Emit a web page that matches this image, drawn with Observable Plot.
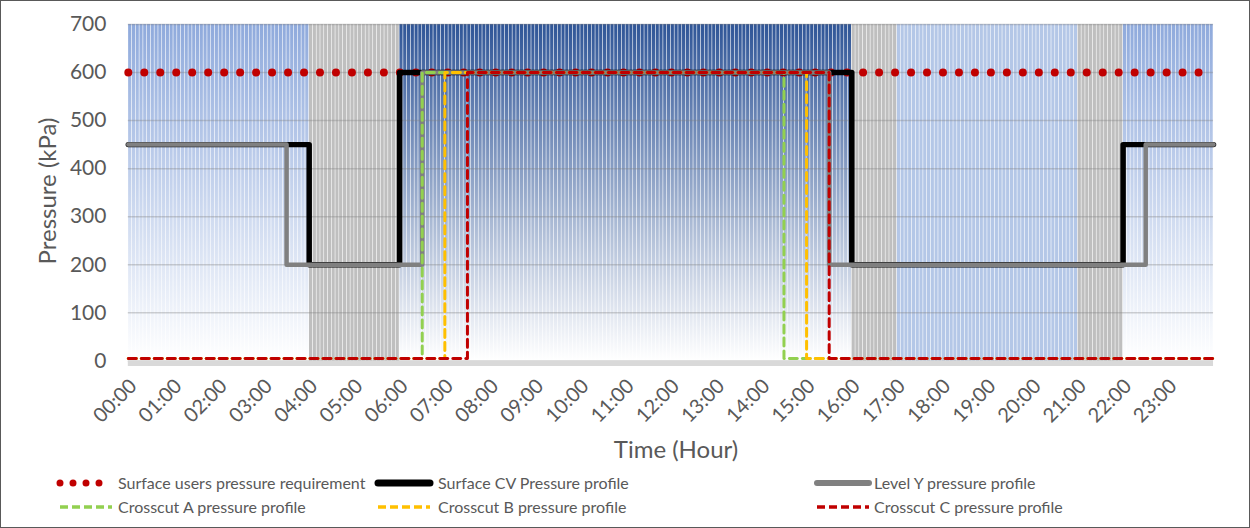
<!DOCTYPE html>
<html><head><meta charset="utf-8">
<script src="https://cdn.jsdelivr.net/npm/d3@7"></script>
<script src="https://cdn.jsdelivr.net/npm/@observablehq/plot@0.6"></script>
<style>
body{margin:0;background:#fff;}
#chart{position:relative;width:1250px;height:528px;box-sizing:border-box;border:1px solid #595959;font-family:Lato,sans-serif;color:#595959;overflow:hidden;background:#fff;}
#chart svg.main{position:absolute;left:-1px;top:-1px;}
.leg{position:absolute;font-size:16px;line-height:20px;white-space:nowrap;}
.sym{position:absolute;}
.ttl{position:absolute;font-size:24px;white-space:nowrap;}
</style></head><body><div id="chart"></div>
<script>
// ---- data ----
const hourTicks = [0,1,2,3,4,5,6,7,8,9,10,11,12,13,14,15,16,17,18,19,20,21,22,23];
const hourLabels = ["00:00","01:00","02:00","03:00","04:00","05:00","06:00","07:00","08:00","09:00","10:00","11:00","12:00","13:00","14:00","15:00","16:00","17:00","18:00","19:00","20:00","21:00","22:00","23:00"];
const yTicks = [0,100,200,300,400,500,600,700];

// background periods (hours)
const bandStart = [0, 4, 6, 16, 17, 21, 22];
const bandEnd   = [4, 6, 16, 17, 21, 22, 24];
const bandKind  = ["mid", "gray", "dark", "gray", "light", "gray", "mid"];
const bandTop = 700;
const slotMinutes = 5;

// series (time in hours, pressure in kPa)
const reqTime  = [0, 24];
const reqValue = [600, 600];
const cvTime   = [0, 4, 4, 6, 6, 16, 16, 22, 22, 24];
const cvValue  = [450, 450, 200, 200, 600, 600, 200, 200, 450, 450];
const lyTime   = [0, 3.5, 3.5, 6.5, 6.5, 15.5, 15.5, 22.5, 22.5, 24];
const lyValue  = [450, 450, 200, 200, 600, 600, 200, 200, 450, 450];
const aTime    = [0, 6.5, 6.5, 14.5, 14.5, 24];
const aValue   = [5, 5, 600, 600, 5, 5];
const bTime    = [0, 7, 7, 15, 15, 24];
const bValue   = [5, 5, 600, 600, 5, 5];
const cTime    = [0, 7.5, 7.5, 15.5, 15.5, 24];
const cValue   = [5, 5, 600, 600, 5, 5];

// ---- build tables ----
const zip = (t, v) => t.map((x, i) => ({t: x, v: v[i]}));
const slots = [];
bandStart.forEach((s, i) => {
  const n = Math.round((bandEnd[i] - s) * 60 / slotMinutes);
  for (let k = 0; k < n; k++) {
    const t = s + k * slotMinutes / 60;
    slots.push({x1: t, x2: t + slotMinutes / 60, kind: bandKind[i], top: bandTop});
  }
});
const fills = {dark: "url(#gDark)", mid: "url(#gMid)", light: "#b4c7e7", gray: "#bfbfbf"};
const bandMarks = Object.keys(fills).map(k =>
  Plot.rect(slots.filter(d => d.kind === k), {x1: "x1", x2: "x2", y1: 0, y2: "top", fill: fills[k], insetLeft: 0.3, insetRight: 0.3})
);

const svg = Plot.plot({
  width: 1250, height: 470,
  marginLeft: 128, marginRight: 35, marginTop: 24, marginBottom: 109,
  x: {domain: [0, 24]},
  y: {domain: [0, 700]},
  style: {fontFamily: "Lato, sans-serif", fontSize: "20px", color: "#595959", background: "transparent", overflow: "visible"},
  marks: [
    ...bandMarks,
    Plot.gridY(yTicks, {stroke: "#7f7f7f", strokeOpacity: 0.35, strokeWidth: 1.5}),
    Plot.ruleY([0], {stroke: "#d9d9d9", strokeWidth: 5, dy: 2.5}),
    Plot.axisY({ticks: yTicks, tickSize: 0, tickPadding: 22, label: null, fontSize: 21}),
    Plot.axisX({ticks: hourTicks, tickFormat: d => hourLabels[hourTicks.indexOf(d)], tickRotate: -45, tickSize: 0, tickPadding: 22, dx: 5, label: null, fontSize: 20}),
    Plot.line(zip(reqTime, reqValue), {x: "t", y: "v", stroke: "#c00000", strokeWidth: 8, strokeLinecap: "round", strokeDasharray: "0 16"}),
    Plot.line(zip(cvTime, cvValue), {x: "t", y: "v", stroke: "#000000", strokeWidth: 5.5, strokeLinejoin: "round"}),
    Plot.line(zip(lyTime, lyValue), {x: "t", y: "v", stroke: "#808080", strokeWidth: 4.5, strokeLinejoin: "round"}),
    Plot.line(zip(aTime, aValue), {x: "t", y: "v", stroke: "#92d050", strokeWidth: 3, strokeDasharray: "8 5", strokeLinejoin: "round"}),
    Plot.line(zip(bTime, bValue), {x: "t", y: "v", stroke: "#ffc000", strokeWidth: 3, strokeDasharray: "8 5", strokeLinejoin: "round"}),
    Plot.line(zip(cTime, cValue), {x: "t", y: "v", stroke: "#c00000", strokeWidth: 3, strokeDasharray: "8 5", strokeLinejoin: "round"})
  ]
});
svg.classList.add("main");
const defs = d3.select(svg).insert("defs", ":first-child");
const grad = (id, c) => {
  const g = defs.append("linearGradient").attr("id", id).attr("x1", 0).attr("y1", 0).attr("x2", 0).attr("y2", 1);
  g.append("stop").attr("offset", "0%").attr("stop-color", c);
  g.append("stop").attr("offset", "100%").attr("stop-color", "#ffffff");
};
grad("gDark", "#2f5597");
grad("gMid", "#8faadc");

const chart = document.getElementById("chart");
chart.appendChild(svg);

// axis titles
const yt = document.createElement("div");
yt.className = "ttl"; yt.textContent = "Pressure (kPa)";
yt.style.left = "45px"; yt.style.top = "190px";
yt.style.transform = "translate(-50%,-50%) rotate(-90deg)";
chart.appendChild(yt);
const xt = document.createElement("div");
xt.className = "ttl"; xt.textContent = "Time (Hour)";
xt.style.left = "675px"; xt.style.top = "447px";
xt.style.transform = "translate(-50%,-50%)";
chart.appendChild(xt);

// legend
const legNames = ["Surface users pressure requirement", "Surface CV Pressure profile", "Level Y pressure profile",
                  "Crosscut A pressure profile", "Crosscut B pressure profile", "Crosscut C pressure profile"];
const legStroke = ["#c00000", "#000000", "#808080", "#92d050", "#ffc000", "#c00000"];
const legWidth = [7, 7, 6, 3.5, 3.5, 3.5];
const legDash = ["0 13", null, null, "8 4", "8 4", "8 4"];
const legCap = ["round", "round", "round", "butt", "butt", "butt"];
const colSym = [55, 373, 812];
const colTxt = [117, 437, 873];
const rowY = [482, 506];
legNames.forEach((name, i) => {
  const col = i % 3, row = Math.floor(i / 3);
  const s = d3.create("svg").attr("class", "sym").attr("width", 64).attr("height", 14)
    .style("left", (colSym[col] - 2) + "px").style("top", (rowY[row] - 7) + "px");
  s.append("line").attr("x1", 6).attr("x2", 58).attr("y1", 7).attr("y2", 7)
    .attr("stroke", legStroke[i]).attr("stroke-width", legWidth[i])
    .attr("stroke-linecap", legCap[i]).attr("stroke-dasharray", legDash[i]);
  chart.appendChild(s.node());
  const t = document.createElement("div");
  t.className = "leg"; t.textContent = name;
  t.style.left = colTxt[col] + "px"; t.style.top = (rowY[row] - 10) + "px";
  chart.appendChild(t);
});
</script></body></html>
